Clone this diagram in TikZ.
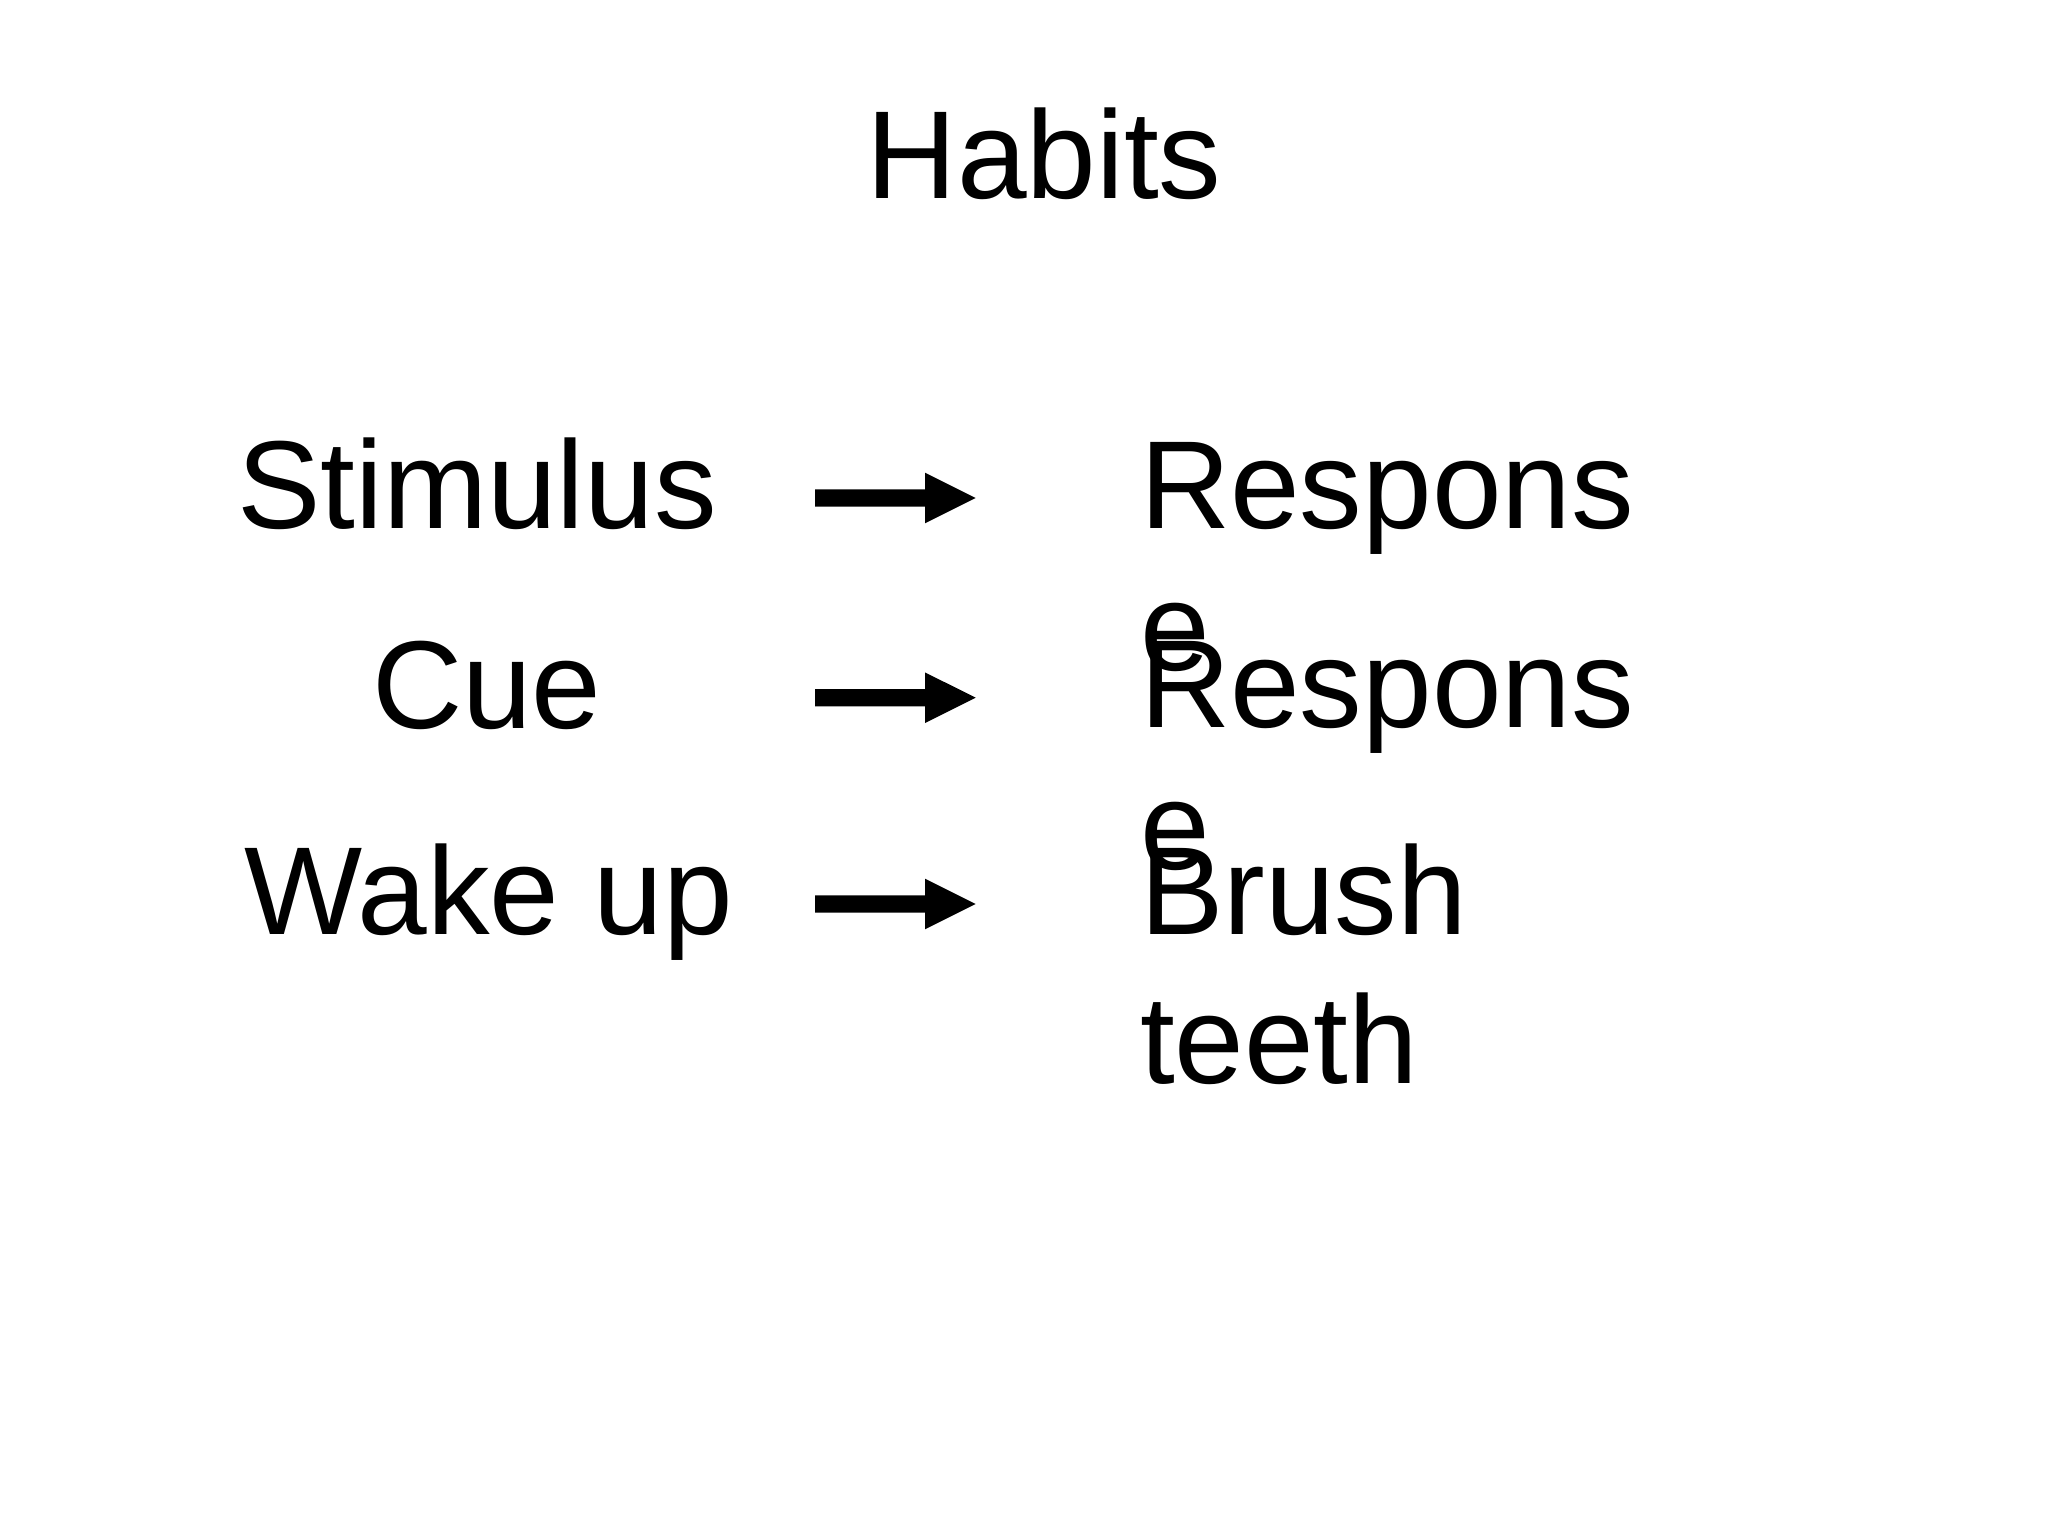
\documentclass[tikz,border=0pt]{standalone}
\usepackage{fontspec}
\setmainfont{Liberation Sans}
\tikzset{
  txt/.style={inner sep=0pt, outer sep=0pt, anchor=base west, align=left,
    font=\fontsize{44}{49.9}\selectfont},
  blockarrow/.style={fill=black}
}
\begin{document}
\begin{tikzpicture}[x=0.3515625pt, y=-0.3515625pt]
\useasboundingbox[fill=white] (0,0) rectangle (2048,1536);
% title
\node[txt] (title) at (866.8,198.3) {Habits};
% left column
\node[txt] (stim) at (237,528.3) {Stimulus};
\node[txt] (cue) at (372,728.3) {Cue};
\node[txt] (wake) at (244,934) {Wake up};
% right column (base anchor of a multi-line node is its last line)
\node[txt] (resp1) at (1140,670.2) {Respons\\e};
\node[txt] (resp2) at (1140,869.2) {Respons\\e};
\node[txt, font=\fontsize{44}{52.7}\selectfont] (brush) at (1140,1083.9) {Brush\\teeth};
% arrows
\coordinate (a1) at (815,498);
\coordinate (a2) at (815,697.7);
\coordinate (a3) at (815,904);
\foreach \c in {a1,a2,a3}{
  \fill[blockarrow, shift={(\c)}] (0,-8.7) -- (110,-8.7) -- (110,-25.3) -- (160.7,0)
     -- (110,25.3) -- (110,8.7) -- (0,8.7) -- cycle;
}
\end{tikzpicture}
\end{document}
